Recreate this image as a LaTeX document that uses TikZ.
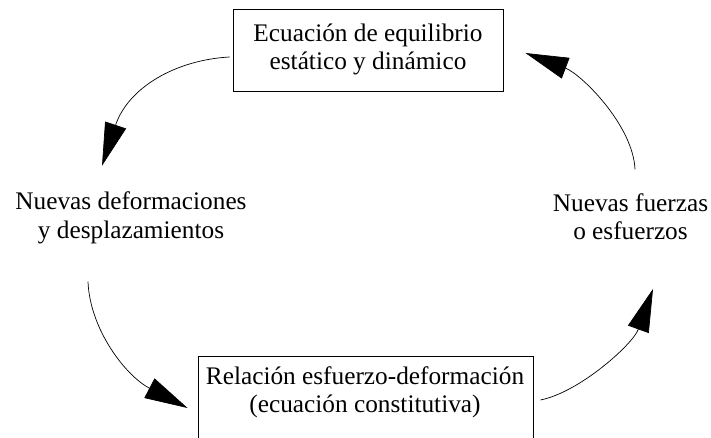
\documentclass[tikz,border=0pt]{standalone}
\usepackage{fontspec}
\setmainfont{Liberation Serif}
\usetikzlibrary{arrows.meta}
\begin{document}
\begin{tikzpicture}[x=1pt,y=-1pt,
  txt/.style={inner sep=0pt,align=center,font=\fontsize{25.3}{28.5}\selectfont},
  boxed/.style={draw,line width=0.9pt,inner sep=0pt},
  conn/.style={line width=0.7pt,-{Triangle[length=43pt,width=22pt]}}]
\useasboundingbox (0,0) rectangle (711,437);
\clip (0,0) rectangle (711,437);
% top box
\node[boxed,txt,minimum width=270pt,minimum height=82pt] (top) at (368,50)
  {\strut Ecuación de equilibrio\\\strut estático y dinámico};
% left and right texts
\node[txt] (ldef) at (131,218.5)
  {\strut Nuevas deformaciones\\\strut y desplazamientos};
\node[txt] (rfor) at (630.5,219.6)
  {\strut Nuevas fuerzas\\\strut o esfuerzos};
% bottom box (its lower edge lies below the picture)
\node[boxed,minimum width=335pt,minimum height=130pt] (botbox) at (365.5,421) {};
\node[txt] (bot) at (365,392.6)
  {\strut Relación esfuerzo-deformación\\\strut (ecuación constitutiva)};
% connectors
\draw[conn] ([xshift=-3pt,yshift=-7pt]top.west)
  .. controls (175,60) and (128,88) .. ([xshift=-29pt,yshift=24pt]ldef.north);
\draw[conn] ([xshift=-43pt,yshift=-34.5pt]ldef.south)
  .. controls (90,330) and (126,376) .. ([xshift=-10pt,yshift=13pt]botbox.west);
\draw[conn] ([xshift=7pt,yshift=21pt]botbox.east)
  .. controls (580,392) and (633,344) .. ([xshift=22.5pt,yshift=-98pt]rfor.north);
\draw[conn] ([xshift=4.5pt,yshift=21.6pt]rfor.north)
  .. controls (633,125) and (581,74) .. ([xshift=22pt,yshift=-3pt]top.east);
\end{tikzpicture}
\end{document}
